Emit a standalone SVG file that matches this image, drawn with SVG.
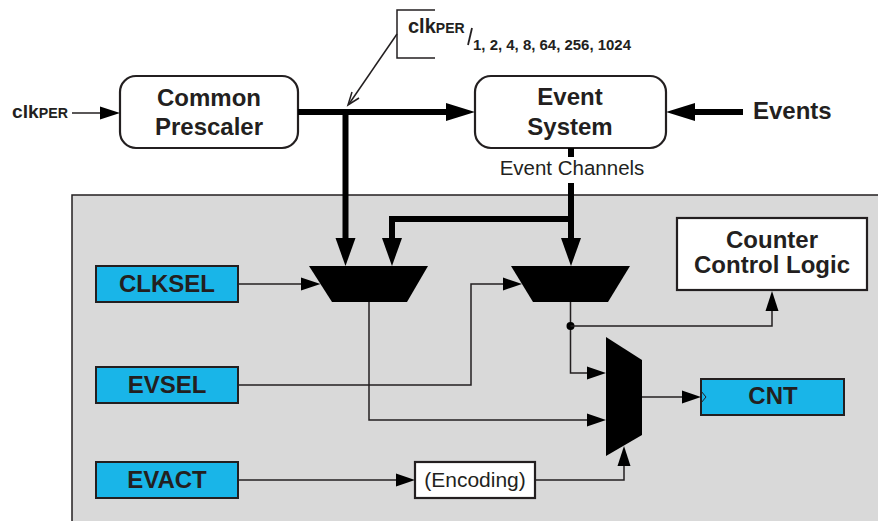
<svg xmlns="http://www.w3.org/2000/svg" width="878" height="521" viewBox="0 0 878 521">
<style>
text{font-family:"Liberation Sans",Arial,sans-serif;fill:#231f20}
.b{font-weight:bold}
.rb{fill:#fff;stroke:#231f20;stroke-width:2.2}
.blue{fill:#19b5e8;stroke:#231f20;stroke-width:2}
.wb{fill:#fff;stroke:#231f20;stroke-width:2.2}
.thin{fill:none;stroke:#231f20;stroke-width:1.5}
.thick{fill:none;stroke:#000;stroke-width:6}
.ah{fill:#000}
.mux{fill:#000}
</style>
<rect x="72" y="195" width="820" height="340" fill="#d9d9d9" stroke="#231f20" stroke-width="1.5"/>

<g id="clkper-in">
<text x="12" y="118" class="b" font-size="19" textLength="56" lengthAdjust="spacingAndGlyphs">clk<tspan font-size="14">PER</tspan></text>
</g>
<g id="common-prescaler">
<rect class="rb" x="120" y="76" width="178" height="72" rx="16"/>
<text x="209" y="106" class="b" font-size="24" text-anchor="middle">Common</text>
<text x="209" y="135" class="b" font-size="24" text-anchor="middle">Prescaler</text>
</g>
<g id="event-system">
<rect class="rb" x="475" y="76" width="191" height="72" rx="16"/>
<text x="570" y="105" class="b" font-size="24" text-anchor="middle">Event</text>
<text x="570" y="135" class="b" font-size="24" text-anchor="middle">System</text>
</g>
<g id="events">
<text x="753" y="119" class="b" font-size="24">Events</text>
</g>
<g id="callout">
<path class="thin" d="M435 10H397V58H435" stroke-width="1.2"/>
<text x="408" y="33" class="b" font-size="20">clk<tspan font-size="14">PER</tspan></text>
<path d="M468 45L472 28" stroke="#231f20" stroke-width="1.8"/>
<text x="473" y="50" class="b" font-size="14" textLength="158" lengthAdjust="spacingAndGlyphs">1, 2, 4, 8, 64, 256, 1024</text>
</g>
<g id="event-channels-label">
<text x="572" y="175" font-size="20.5" text-anchor="middle">Event Channels</text>
</g>
<g id="clksel">
<rect class="blue" x="96" y="266" width="142" height="36"/>
<text x="167" y="292" class="b" font-size="24" text-anchor="middle">CLKSEL</text>
</g>
<g id="evsel">
<rect class="blue" x="96" y="367" width="142" height="36"/>
<text x="167" y="393" class="b" font-size="24" text-anchor="middle">EVSEL</text>
</g>
<g id="evact">
<rect class="blue" x="96" y="462" width="142" height="36"/>
<text x="167" y="488" class="b" font-size="24" text-anchor="middle">EVACT</text>
</g>
<g id="encoding">
<rect class="wb" x="415" y="462" width="120" height="36"/>
<text x="475" y="487" font-size="21" text-anchor="middle">(Encoding)</text>
</g>
<g id="counter-control-logic">
<rect class="wb" x="677" y="218" width="190" height="72"/>
<text x="772" y="248" class="b" font-size="24" text-anchor="middle">Counter</text>
<text x="772" y="273" class="b" font-size="24" text-anchor="middle">Control Logic</text>
</g>
<g id="cnt">
<rect class="blue" x="701" y="379" width="143" height="36"/>
<path d="M701 391L706 397L701 403" fill="none" stroke="#231f20" stroke-width="1"/>
<text x="773" y="404" class="b" font-size="24" text-anchor="middle">CNT</text>
</g>
<g id="mux-clk">
<polygon class="mux" points="309,266 428,266 407,302 332,302"/>
</g>
<g id="mux-ev">
<polygon class="mux" points="511,266 630,266 608,302 533,302"/>
</g>
<g id="mux-cnt">
<polygon class="mux" points="606,337 642,360 642,435 606,456"/>
</g>

<g id="connectors">
<path class="thin" d="M72 113H102"/>
<polygon class="ah" points="120,113 100,106.5 100,119.5"/>
<path class="thick" d="M298 112H450"/>
<polygon class="ah" points="475,112 446,103 446,121"/>
<path class="thick" d="M743 112H692"/>
<polygon class="ah" points="666,112 695,103 695,121"/>
<path class="thin" d="M397 34L349 104" stroke-width="1"/>
<path class="thin" d="M352 92L348 105L359 98" stroke-width="1"/>
<path class="thick" d="M345.5 112V240"/>
<polygon class="ah" points="345.5,266 335.5,238 355.5,238"/>
<path class="thick" d="M571 148V157"/>
<path class="thick" d="M571 183V240"/>
<polygon class="ah" points="571,266 561,238 581,238"/>
<path class="thick" d="M571 219H392V240"/>
<polygon class="ah" points="392,266 382,238 402,238"/>
<path class="thin" d="M238 284H303"/>
<polygon class="ah" points="320.5,284 301,277.5 301,290.5"/>
<path class="thin" d="M238 385H471V284H505"/>
<polygon class="ah" points="522,284 503,277.5 503,290.5"/>
<path class="thin" d="M369 302V420H590"/>
<polygon class="ah" points="606,420 587,413.5 587,426.5"/>
<path class="thin" d="M570.5 302V373H590"/>
<polygon class="ah" points="606,373 587,366.5 587,379.5"/>
<circle cx="570.5" cy="326" r="4" fill="#000"/>
<path class="thin" d="M570.5 326H772V309"/>
<polygon class="ah" points="772,291 765.5,311 778.5,311"/>
<path class="thin" d="M238 480H398"/>
<polygon class="ah" points="415,480 396,473.5 396,486.5"/>
<path class="thin" d="M535 480H624V464"/>
<polygon class="ah" points="624,446 617.5,466 630.5,466"/>
<path class="thin" d="M642 397H684"/>
<polygon class="ah" points="701,397 682,390.5 682,403.5"/>
</g>
</svg>
